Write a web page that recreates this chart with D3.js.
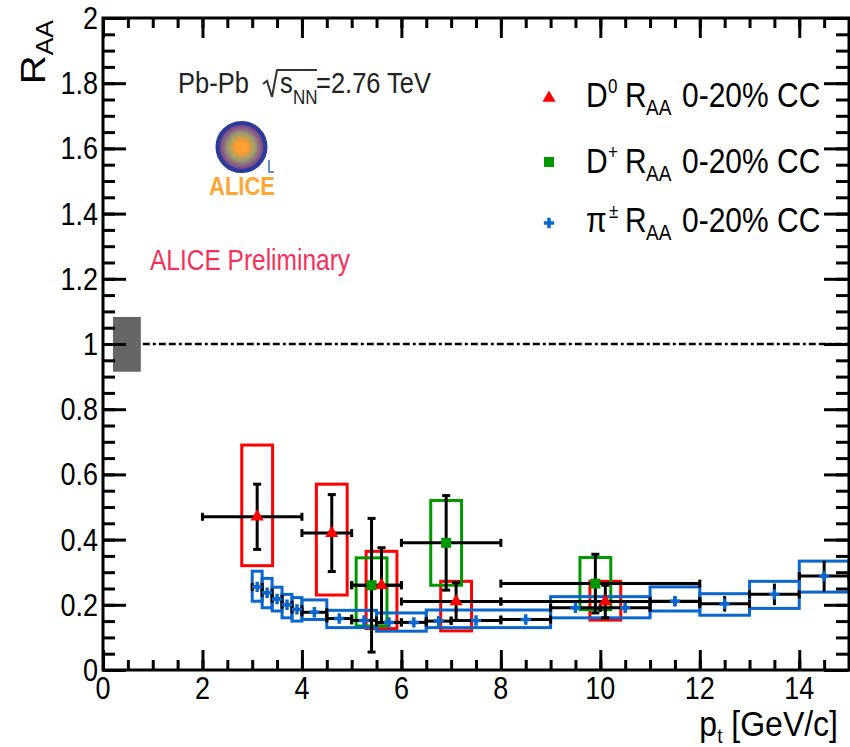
<!DOCTYPE html>
<html>
<head>
<meta charset="utf-8">
<script src="https://cdn.jsdelivr.net/npm/d3@7"></script>
<style>
  html, body { margin: 0; padding: 0; background: #fff; }
  svg { display: block; font-family: "Liberation Sans", Arial, Helvetica, sans-serif; }
</style>
</head>
<body>
<svg id="chart" width="850" height="747"></svg>
<script>
// ---------------- data ----------------
const xTickValues = [0, 2, 4, 6, 8, 10, 12, 14];
const xTickLabels = ["0", "2", "4", "6", "8", "10", "12", "14"];
const yTickValues = [0, 0.2, 0.4, 0.6, 0.8, 1, 1.2, 1.4, 1.6, 1.8, 2];
const yTickLabels = ["0", "0.2", "0.4", "0.6", "0.8", "1", "1.2", "1.4", "1.6", "1.8", "2"];

// D0 R_AA, 0-20% centrality
const d0Pt    = [3.1, 4.6, 5.6, 7.1, 10.1];
const d0Raa   = [0.47, 0.42, 0.26, 0.21, 0.21];
const d0PtLo  = [2, 4, 5, 6, 8];
const d0PtHi  = [4, 5, 6, 8, 12];
const d0Stat  = [0.10, 0.118, 0.115, 0.058, 0.05];
const d0SysUp = [0.22, 0.15, 0.104, 0.062, 0.062];
const d0SysDn = [0.15, 0.19, 0.133, 0.09, 0.057];

// D+ R_AA, 0-20% centrality
const dpPt    = [5.4, 6.9, 9.9];
const dpRaa   = [0.26, 0.39, 0.265];
const dpPtLo  = [5, 6, 8];
const dpPtHi  = [6, 8, 12];
const dpStat  = [0.205, 0.145, 0.09];
const dpSysUp = [0.084, 0.13, 0.08];
const dpSysDn = [0.125, 0.13, 0.08];

// charged pion R_AA, 0-20% centrality
const piPt   = [3.1, 3.3, 3.5, 3.7, 3.9, 4.25, 4.75, 5.25, 5.75, 6.25, 6.75, 7.5, 8.5, 9.5, 10.5, 11.5, 12.5, 13.5, 14.5];
const piRaa  = [0.255, 0.237, 0.218, 0.200, 0.186, 0.177, 0.158, 0.152, 0.146, 0.146, 0.150, 0.152, 0.155, 0.191, 0.191, 0.211, 0.203, 0.232, 0.288];
const piPtLo = [3.0, 3.2, 3.4, 3.6, 3.8, 4.0, 4.5, 5.0, 5.5, 6.0, 6.5, 7, 8, 9, 10, 11, 12, 13, 14];
const piPtHi = [3.2, 3.4, 3.6, 3.8, 4.0, 4.5, 5.0, 5.5, 6.0, 6.5, 7.0, 8, 9, 10, 11, 12, 13, 14, 15];
const piStat = [0.004, 0.004, 0.004, 0.004, 0.004, 0.004, 0.004, 0.004, 0.004, 0.004, 0.004, 0.005, 0.006, 0.008, 0.010, 0.015, 0.024, 0.033, 0.047];

// pion systematic boxes (pt range, R_AA range)
const piSysPtLo  = [3.0, 3.2, 3.4, 3.6, 3.8, 4.0, 4.5, 5.5, 6.5, 9, 11, 12, 13, 14];
const piSysPtHi  = [3.2, 3.4, 3.6, 3.8, 4.0, 4.5, 5.5, 6.5, 9, 11, 12, 13, 14, 15];
const piSysRaaLo = [0.211, 0.191, 0.181, 0.160, 0.150, 0.155, 0.130, 0.119, 0.130, 0.160, 0.181, 0.168, 0.189, 0.239];
const piSysRaaHi = [0.303, 0.281, 0.254, 0.232, 0.222, 0.215, 0.183, 0.175, 0.184, 0.225, 0.255, 0.234, 0.272, 0.334];

// global normalisation uncertainty and unity reference
const normPt  = [0.2, 0.76];
const normRaa = [0.915, 1.083];
const unityRaa = 1;
const unityPt  = [0.8, 15];

// half width (in pt) of the D-meson systematic boxes
const dSysHalfWidth = 0.31;

// ---------------- drawing ----------------
const svg = d3.select("#chart");
const x = d3.scaleLinear().domain([0, 15]).range([103, 849]);
const y = d3.scaleLinear().domain([0, 2]).range([670, 18]);

const COL_D0 = "#ff0000", COL_DP = "#009900", COL_PI = "#0a66cc";
const SY = 1.15; // vertical text stretch

function txt(g, px, py, s, size, opt = {}) {
  const t = g.append("text")
    .attr("transform", `translate(${px},${py}) scale(1,${opt.sy || SY})`)
    .attr("font-size", size)
    .attr("text-anchor", opt.anchor || "start")
    .attr("fill", opt.fill || "#000")
    .text(s);
  if (opt.weight) t.attr("font-weight", opt.weight);
  return t;
}

const gData = svg.append("g");

// normalisation box + unity line
gData.append("rect")
  .attr("x", x(normPt[0])).attr("width", x(normPt[1]) - x(normPt[0]))
  .attr("y", y(normRaa[1])).attr("height", y(normRaa[0]) - y(normRaa[1]))
  .attr("fill", "#666666");
gData.append("line")
  .attr("x1", x(unityPt[0])).attr("x2", x(unityPt[1]))
  .attr("y1", y(unityRaa)).attr("y2", y(unityRaa))
  .attr("stroke", "#000").attr("stroke-width", 2.6)
  .attr("stroke-dasharray", "7,3,3,3,7,3");

const d0 = d0Pt.map((pt, i) => ({ pt, v: d0Raa[i], lo: d0PtLo[i], hi: d0PtHi[i], stat: d0Stat[i], up: d0SysUp[i], dn: d0SysDn[i] }));
const dp = dpPt.map((pt, i) => ({ pt, v: dpRaa[i], lo: dpPtLo[i], hi: dpPtHi[i], stat: dpStat[i], up: dpSysUp[i], dn: dpSysDn[i] }));
const pi = piPt.map((pt, i) => ({ pt, v: piRaa[i], lo: piPtLo[i], hi: piPtHi[i], stat: piStat[i] }));
const piSys = piSysPtLo.map((lo, i) => ({ lo, hi: piSysPtHi[i], rlo: piSysRaaLo[i], rhi: piSysRaaHi[i] }));

function dBoxes(data, color) {
  gData.append("g").selectAll("rect").data(data).join("rect")
    .attr("x", d => x(d.pt - dSysHalfWidth))
    .attr("width", d => x(d.pt + dSysHalfWidth) - x(d.pt - dSysHalfWidth))
    .attr("y", d => y(d.v + d.up))
    .attr("height", d => y(d.v - d.dn) - y(d.v + d.up))
    .attr("fill", "none").attr("stroke", color).attr("stroke-width", 3);
}
dBoxes(d0, COL_D0);
dBoxes(dp, COL_DP);

// pion systematic boxes
gData.append("g").selectAll("rect").data(piSys).join("rect")
  .attr("x", d => x(d.lo)).attr("width", d => x(d.hi) - x(d.lo))
  .attr("y", d => y(d.rhi)).attr("height", d => y(d.rlo) - y(d.rhi))
  .attr("fill", "none").attr("stroke", COL_PI).attr("stroke-width", 3);

// error bars
function errBars(data, statCaps) {
  const g = gData.append("g").attr("stroke", "#000").attr("stroke-width", 3);
  data.forEach(d => {
    const cy = y(d.v);
    g.append("line").attr("x1", x(d.lo)).attr("x2", x(d.hi)).attr("y1", cy).attr("y2", cy);
    [d.lo, d.hi].forEach(e => g.append("line").attr("x1", x(e)).attr("x2", x(e)).attr("y1", cy - 4).attr("y2", cy + 4));
    const cx = x(d.pt);
    g.append("line").attr("x1", cx).attr("x2", cx).attr("y1", y(d.v + d.stat)).attr("y2", y(d.v - d.stat));
    if (statCaps) {
      [d.v + d.stat, d.v - d.stat].forEach(e => g.append("line").attr("x1", cx - 4).attr("x2", cx + 4).attr("y1", y(e)).attr("y2", y(e)));
    }
  });
}
errBars(pi, false);
errBars(dp, true);
errBars(d0, true);

// markers
const symPi = d3.symbol(d3.symbolCross).size(60);
const symDp = d3.symbol(d3.symbolSquare).size(100);
const symD0 = d3.symbol(d3.symbolTriangle).size(75);

gData.append("g").selectAll("path").data(pi).join("path")
  .attr("d", symPi).attr("transform", d => `translate(${x(d.pt)},${y(d.v)})`).attr("fill", COL_PI);
gData.append("g").selectAll("path").data(dp).join("path")
  .attr("d", symDp).attr("transform", d => `translate(${x(d.pt)},${y(d.v)})`).attr("fill", COL_DP);
gData.append("g").selectAll("path").data(d0).join("path")
  .attr("d", symD0).attr("transform", d => `translate(${x(d.pt)},${y(d.v)})`).attr("fill", COL_D0);

// ---------------- frame and axes ----------------
const gAx = svg.append("g");
const xMinor = d3.range(0, 15.001, 0.5);
const yMinor = d3.range(0, 40.5, 1).map(v => v * 0.05);

function axis(gen, scale, values, size, transform) {
  const g = gAx.append("g").attr("transform", transform)
    .call(gen(scale).tickValues(values).tickSizeInner(-size).tickSizeOuter(0).tickFormat(""));
  g.selectAll("line").attr("stroke", "#000").attr("stroke-width", 3);
  g.select(".domain").remove();
}
axis(d3.axisBottom, x, xMinor, 10, "translate(0,670)");
axis(d3.axisBottom, x, xTickValues, 20, "translate(0,670)");
axis(d3.axisTop, x, xMinor, 10, "translate(0,18)");
axis(d3.axisTop, x, xTickValues, 20, "translate(0,18)");
axis(d3.axisLeft, y, yMinor, 12, "translate(103,0)");
axis(d3.axisLeft, y, yTickValues, 23, "translate(103,0)");
axis(d3.axisRight, y, yMinor, 13, "translate(849,0)");
axis(d3.axisRight, y, yTickValues, 25, "translate(849,0)");

gAx.append("rect")
  .attr("x", x(0)).attr("y", y(2))
  .attr("width", x(15) - x(0)).attr("height", y(0) - y(2))
  .attr("fill", "none").attr("stroke", "#000").attr("stroke-width", 3);

// tick labels
xTickValues.forEach((v, i) => txt(gAx, x(v), 699, xTickLabels[i], 27, { anchor: "middle" }));
yTickValues.forEach((v, i) => txt(gAx, 98, y(v) + 11, yTickLabels[i], 27, { anchor: "end" }));

// axis titles
const yTitle = svg.append("text")
  .attr("transform", "translate(45,20) rotate(-90) scale(1.15,1)")
  .attr("text-anchor", "end").attr("fill", "#000");
yTitle.append("tspan").attr("font-size", 35).text("R");
yTitle.append("tspan").attr("font-size", 23).attr("dy", 8).text("AA");

const xTitle = svg.append("text")
  .attr("transform", `translate(838,736) scale(1,1.1)`)
  .attr("text-anchor", "end").attr("fill", "#000").attr("font-size", 32);
xTitle.append("tspan").text("p");
xTitle.append("tspan").attr("font-size", 19).attr("dy", 6).text("t");
xTitle.append("tspan").attr("dy", -6).text("\u00a0[GeV/c]");

// ---------------- annotations ----------------
const gAnn = svg.append("g");
txt(gAnn, 178, 93, "Pb-Pb", 25.5, { fill: "#222" });
gAnn.append("path")
  .attr("d", "M263,84 L267,81 L272,97 L277,70 L317,70")
  .attr("fill", "none").attr("stroke", "#333").attr("stroke-width", 2);
txt(gAnn, 280, 93, "s", 25.5, { fill: "#222" });
txt(gAnn, 293, 104, "NN", 17, { fill: "#222" });
txt(gAnn, 316, 93, "=2.76 TeV", 25.5, { fill: "#222" });

// ALICE logo
const defs = svg.append("defs");
const rg = defs.append("radialGradient").attr("id", "logoGrad");
[[0, "#ffa030"], [0.3, "#f09a3a"], [0.55, "#9aa06a"], [0.8, "#8a5a8a"], [1, "#5a3c8c"]]
  .forEach(([o, c]) => rg.append("stop").attr("offset", o).attr("stop-color", c));
gAnn.append("circle").attr("cx", 241.5).attr("cy", 147).attr("r", 24)
  .attr("fill", "url(#logoGrad)").attr("stroke", "#2a3c9a").attr("stroke-width", 4);
gAnn.append("rect").attr("x", 236).attr("y", 142).attr("width", 11).attr("height", 10).attr("fill", "#ffa030");
gAnn.append("path").attr("d", "M269,160 L269,172 L274,172")
  .attr("fill", "none").attr("stroke", "#3a6ab0").attr("stroke-width", 1.5);
txt(gAnn, 242, 195, "ALICE", 22, { anchor: "middle", fill: "#ffa733", weight: "bold" });

txt(gAnn, 150, 270, "ALICE Preliminary", 24.5, { fill: "#f53058", sy: 1.2 });

// ---------------- legend ----------------
const gLeg = svg.append("g");
const legRows = [
  { sym: symD0, col: COL_D0, base: 107, mark: 98, part: "D", sup: "0", supX: 608 },
  { sym: symDp, col: COL_DP, base: 173, mark: 162, part: "D", sup: "+", supX: 608 },
  { sym: symPi, col: COL_PI, base: 232, mark: 223, part: "\u03c0", sup: "\u00b1", supX: 609 }
];
legRows.forEach(r => {
  gLeg.append("path").attr("d", r.sym).attr("transform", `translate(549,${r.mark})`).attr("fill", r.col);
  txt(gLeg, 586, r.base, r.part, 30);
  txt(gLeg, r.supX, r.base - 14, r.sup, 17);
  txt(gLeg, 625, r.base, "R", 30);
  txt(gLeg, 646, r.base + 8, "AA", 19);
  txt(gLeg, 682, r.base, "0-20% CC", 30);
});
</script>
</body>
</html>
